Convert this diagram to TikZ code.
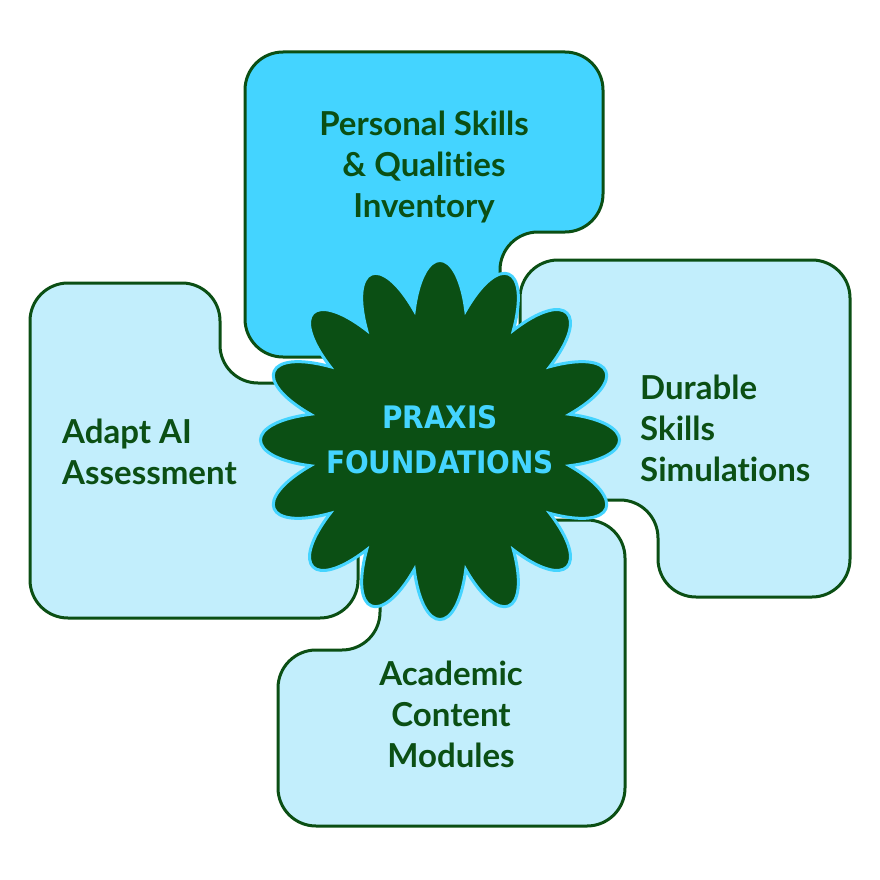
\documentclass[tikz,border=0pt]{standalone}
\usepackage{fontspec}
\usetikzlibrary{calc}
\setmainfont{Lato}[Ligatures={NoCommon}]
\newfontfamily\cond{DejaVu Sans Condensed}
\begin{document}
\begin{tikzpicture}[x=1pt,y=-1pt,
  box/.style={draw=dg,line width=3pt,rounded corners=38pt},
  lbl/.style={text=dg,font=\fontsize{33}{41}\selectfont\bfseries,inner sep=0pt},
  ]
\definecolor{dg}{HTML}{0B4F14}
\definecolor{cy}{HTML}{44D4FF}
\definecolor{lc}{HTML}{C2EEFC}
\useasboundingbox (0,0) rectangle (880,880);
% boxes
\path[box,fill=cy] (245,52) -- (603,52) -- (603,232) -- (500,232) -- (500,357) -- (245,357) -- cycle;
\path[box,fill=lc] (30,283) -- (220,283) -- (220,383) -- (358,383) -- (358,618) -- (30,618) -- cycle;
\path[box,fill=lc] (520,260) -- (850,260) -- (850,597) -- (658,597) -- (658,500) -- (520,500) -- cycle;
\path[box,fill=lc] (278,650) -- (380,650) -- (380,520) -- (625,520) -- (625,826) -- (278,826) -- cycle;
% star
\def\r{132}
\path[fill=dg,draw=cy,line width=3pt]
  ($(440,440)+(101.25:\r)$)
  \foreach \i in {0,...,15}{
    .. controls ($(440,440)+({90-22.5*\i+5}:197)$) and ($(440,440)+({90-22.5*\i-5}:197)$) .. ($(440,440)+({90-22.5*\i-11.25}:\r)$)
  } -- cycle;
\node[lbl,align=center] (top) at (424,167) {Personal Skills\\\& Qualities\\Inventory};
\node[lbl,align=left,anchor=west] (right) at (640,428) {Durable\\Skills\\Simulations};
\node[lbl,align=left,anchor=west] (left) at (62,452) {Adapt AI\\Assessment};
\node[lbl,align=center] (bot) at (451,714) {Academic\\Content\\Modules};
\node[text=cy,font=\cond\fontsize{31}{45}\selectfont\bfseries,align=center,inner sep=0pt] (c) at (440,440) {PRAXIS\\FOUNDATIONS};
\end{tikzpicture}
\end{document}
